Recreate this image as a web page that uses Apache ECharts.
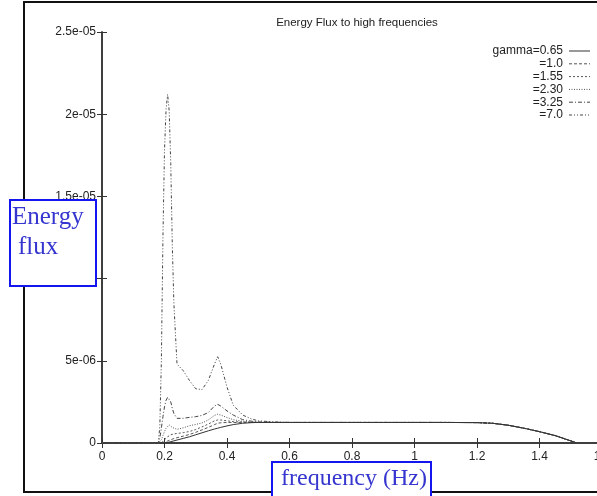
<!DOCTYPE html>
<html>
<head>
<meta charset="utf-8">
<script src="https://cdn.jsdelivr.net/npm/echarts@6/dist/echarts.min.js"></script>
<style>html,body{margin:0;padding:0;background:#fff;}#c{width:597px;height:496px;}</style>
</head>
<body>
<div id="c"></div>
<script>
// frequency (Hz)
var freq = [0, 0.17, 0.18, 0.185, 0.19, 0.195, 0.2, 0.205, 0.21, 0.215, 0.22, 0.225, 0.23, 0.24, 0.26, 0.28, 0.3, 0.32, 0.34, 0.36, 0.37, 0.38, 0.4, 0.42, 0.45, 0.48, 0.5, 0.55, 0.6, 0.7, 0.8, 0.9, 1.0, 1.1, 1.2, 1.25, 1.3, 1.35, 1.4, 1.45, 1.5, 1.52];
// energy flux, in units of 1e-6
var g065 = [0, 0, 0, 0, 0, 0, 0, 0.01, 0.03, 0.05, 0.08, 0.1, 0.13, 0.18, 0.28, 0.38, 0.5, 0.62, 0.74, 0.85, 0.9, 0.95, 1.04, 1.12, 1.2, 1.24, 1.25, 1.25, 1.25, 1.25, 1.25, 1.25, 1.25, 1.25, 1.24, 1.2, 1.08, 0.9, 0.69, 0.45, 0.13, 0];
var g100 = [0, 0, 0, 0, 0, 0, 0.05, 0.08, 0.12, 0.16, 0.2, 0.24, 0.27, 0.32, 0.42, 0.52, 0.65, 0.8, 0.95, 1.12, 1.2, 1.23, 1.25, 1.25, 1.25, 1.25, 1.25, 1.25, 1.25, 1.25, 1.25, 1.25, 1.25, 1.25, 1.24, 1.2, 1.08, 0.9, 0.69, 0.45, 0.13, 0];
var g155 = [0, 0, 0, 0, 0, 0.1, 0.2, 0.3, 0.38, 0.45, 0.5, 0.53, 0.55, 0.58, 0.63, 0.7, 0.82, 0.98, 1.15, 1.35, 1.4, 1.4, 1.35, 1.3, 1.27, 1.26, 1.25, 1.25, 1.25, 1.25, 1.25, 1.25, 1.25, 1.25, 1.24, 1.2, 1.08, 0.9, 0.69, 0.45, 0.13, 0];
var g230 = [0, 0, 0, 0, 0.2, 0.45, 0.7, 0.9, 1.02, 1.1, 1.08, 0.95, 0.86, 0.83, 0.92, 1.05, 1.13, 1.22, 1.4, 1.68, 1.75, 1.7, 1.55, 1.42, 1.32, 1.27, 1.26, 1.25, 1.25, 1.25, 1.25, 1.25, 1.25, 1.25, 1.24, 1.2, 1.08, 0.9, 0.69, 0.45, 0.13, 0];
var g325 = [0, 0, 0, 0.3, 0.9, 1.6, 2.2, 2.6, 2.78, 2.75, 2.5, 2.1, 1.8, 1.5, 1.5, 1.56, 1.6, 1.68, 1.85, 2.25, 2.35, 2.25, 1.95, 1.7, 1.42, 1.32, 1.28, 1.26, 1.25, 1.25, 1.25, 1.25, 1.25, 1.25, 1.24, 1.2, 1.08, 0.9, 0.69, 0.45, 0.13, 0];
var g700 = [0, 0, 0, 1.0, 5.0, 12.5, 17.8, 20.3, 21.2, 20.2, 17.0, 12.0, 8.5, 4.8, 4.4, 3.8, 3.3, 3.25, 3.8, 4.8, 5.25, 4.8, 3.4, 2.3, 1.7, 1.45, 1.35, 1.28, 1.25, 1.25, 1.25, 1.25, 1.25, 1.25, 1.24, 1.2, 1.08, 0.9, 0.69, 0.45, 0.13, 0];
var seriesNames = ['gamma=0.65', '=1.0', '=1.55', '=2.30', '=3.25', '=7.0'];
var seriesValues = [g065, g100, g155, g230, g325, g700];
var xTicks = [0, 0.2, 0.4, 0.6, 0.8, 1, 1.2, 1.4, 1.6];
var yTicks = [0, 5, 10, 15, 20, 25];

var dashes = ['solid', [3, 2], [2, 2], [1, 1.5], [4, 2, 1, 2], [3, 2, 1, 2, 1, 2]];
var colors = ['#333', '#555', '#555', '#555', '#444', '#444'];

function pairs(vals) { return freq.map(function (f, i) { return [f, vals[i]]; }); }
function yfmt(v) {
  if (v === 0) return '0';
  var s = (v / 1000000).toExponential();
  return s.replace(/e([+-])(\d+)$/, function (m, sg, d) { return 'e' + sg + (d.length < 2 ? '0' + d : d); });
}

var chart = echarts.init(document.getElementById('c'), null, { renderer: 'canvas' });
var FONT = "'Liberation Sans', Arial, Helvetica, sans-serif";
var axisCommon = {
  min: 0,
  axisLine: { show: true, lineStyle: { color: '#333', width: 1.5 } },
  axisTick: { show: true, inside: true, length: 5, lineStyle: { color: '#333', width: 1 } },
  splitLine: { show: false }
};

var series = seriesValues.map(function (vals, i) {
  return {
    type: 'line', name: seriesNames[i], data: pairs(vals), symbol: 'none', smooth: false,
    lineStyle: { width: 1, color: colors[i], type: dashes[i] }, z: 5 - i
  };
});

var legendItems = [];
seriesNames.forEach(function (n, i) {
  var y = 51 + i * 12.8;
  legendItems.push({ type: 'text', x: 563, y: y, style: { text: n, fontSize: 12, fontFamily: FONT, fill: '#222', textAlign: 'right', textVerticalAlign: 'middle' }, z: 50 });
  legendItems.push({ type: 'line', x: 0, y: 0, shape: { x1: 569, y1: y, x2: 590, y2: y }, style: { stroke: colors[i], lineWidth: 1, lineDash: dashes[i] === 'solid' ? null : dashes[i] }, z: 50 });
});

var option = {
  animation: false,
  backgroundColor: '#fff',
  title: {
    text: 'Energy Flux to high frequencies', left: 352, top: 12, textAlign: 'center',
    textStyle: { fontSize: 11.5, fontWeight: 'normal', color: '#222', fontFamily: FONT }
  },
  grid: { left: 102, top: 32, width: 500, height: 411, show: false, containLabel: false, outerBoundsMode: 'none' },
  xAxis: [
    Object.assign({}, axisCommon, {
      type: 'value', position: 'bottom', max: 1.6, interval: 0.2,
      axisLabel: { show: true, margin: 8, fontSize: 12, color: '#222', fontFamily: FONT,
        formatter: function (v) { return String(Math.round(v * 10) / 10); } }
    }),
    Object.assign({}, axisCommon, {
      type: 'value', position: 'top', max: 1.6, interval: 0.2, axisLabel: { show: false }
    })
  ],
  yAxis: [
    Object.assign({}, axisCommon, {
      type: 'value', position: 'left', max: 25, interval: 5,
      axisLabel: { show: true, margin: 6, fontSize: 12, color: '#222', fontFamily: FONT, formatter: yfmt }
    }),
    Object.assign({}, axisCommon, {
      type: 'value', position: 'right', max: 25, interval: 5, axisLabel: { show: false }
    })
  ],
  series: series,
  graphic: [
    { type: 'rect', shape: { x: 24, y: 2, width: 620, height: 490 }, style: { fill: null, stroke: '#111', lineWidth: 2 }, z: 40 },
    { type: 'rect', shape: { x: 10, y: 200, width: 86, height: 86 }, style: { fill: '#fff', stroke: '#1515f0', lineWidth: 2 }, z: 60 },
    { type: 'text', x: 12, y: 217.5, style: { text: 'Energy', fontSize: 25, fontFamily: "'Liberation Serif', 'Times New Roman', serif", fill: '#3535d0', textVerticalAlign: 'middle' }, z: 61 },
    { type: 'text', x: 18, y: 247.5, style: { text: 'flux', fontSize: 25, fontFamily: "'Liberation Serif', 'Times New Roman', serif", fill: '#3535d0', textVerticalAlign: 'middle' }, z: 61 },
    { type: 'rect', shape: { x: 272, y: 462, width: 159, height: 44 }, style: { fill: '#fff', stroke: '#1515f0', lineWidth: 2 }, z: 60 },
    { type: 'text', x: 281, y: 479, style: { text: 'frequency (Hz)', fontSize: 24, fontFamily: "'Liberation Serif', 'Times New Roman', serif", fill: '#3535d0', textVerticalAlign: 'middle' }, z: 61 }
  ].concat(legendItems)
};
chart.setOption(option);
</script>
</body>
</html>
